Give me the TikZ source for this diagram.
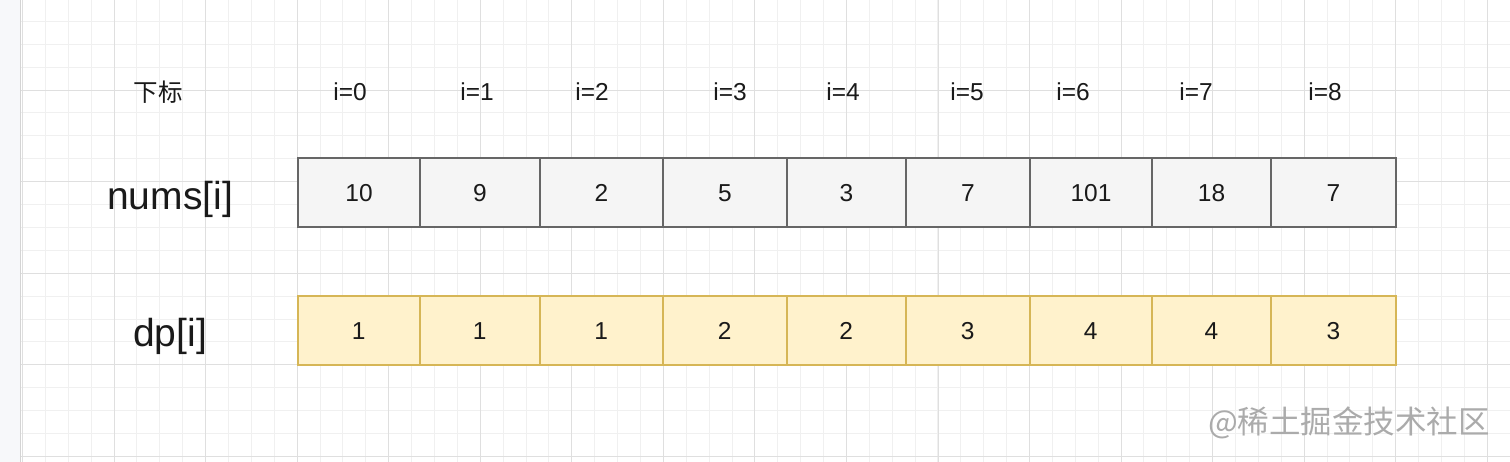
\documentclass[tikz,border=0pt]{standalone}
\usepackage{fontspec}
\setmainfont{Liberation Sans}
\newfontfamily\cjk{Noto Sans CJK SC}
\definecolor{minorgrid}{HTML}{F0F0F0}
\definecolor{majorgrid}{HTML}{DFDFDF}
\definecolor{stripbg}{HTML}{F7F8FA}
\definecolor{stripline}{HTML}{D4D4D4}
\definecolor{numfill}{HTML}{F5F5F5}
\definecolor{numline}{HTML}{666666}
\definecolor{dpfill}{HTML}{FFF2CC}
\definecolor{dpline}{HTML}{D6B656}
\definecolor{txt}{HTML}{1A1A1A}
\definecolor{wm}{HTML}{ABABAB}
\tikzset{
  minorline/.style={draw=minorgrid, line width=1pt},
  majorline/.style={draw=majorgrid, line width=1pt},
  cellbase/.style={rectangle, inner sep=0pt, minimum height=69pt, text=txt,
    font=\fontsize{24.5}{29}\selectfont, text height=17.6pt, text depth=0pt, anchor=west},
  numcell/.style={cellbase, fill=numfill, draw=numline, line width=2pt},
  dpcell/.style={cellbase, fill=dpfill, draw=dpline, line width=1.6pt},
  idxlabel/.style={inner sep=0pt, text=txt, font=\fontsize{24.5}{29}\selectfont},
  rowlabel/.style={inner sep=0pt, text=txt, font=\fontsize{39}{46}\selectfont},
  watermark/.style={inner sep=0pt, text=wm, font=\cjk\fontsize{31.5}{36}\selectfont},
}
\begin{document}
\begin{tikzpicture}[x=1pt,y=-1pt]
\useasboundingbox (0,0) rectangle (1510,462);
\fill[white] (0,0) rectangle (1510,462);
% grid
\foreach \i in {0,...,65} {\pgfmathsetmacro{\gx}{round(22+\i*22.8875)+0.5}\draw[minorline] (\gx,0) -- ++(0,462);}
\foreach \j in {0,...,20} {\pgfmathsetmacro{\gy}{round(-2+\j*22.9)+0.5}\draw[minorline] (20,\gy) -- ++(1490,0);}
\foreach \i in {0,...,16} {\pgfmathsetmacro{\gx}{round(22+\i*91.55)+0.5}\draw[majorline] (\gx,0) -- ++(0,462);}
\foreach \j in {0,...,5} {\pgfmathsetmacro{\gy}{round(-2+\j*91.6)+0.5}\draw[majorline] (20,\gy) -- ++(1490,0);}
% left strip
\fill[stripbg] (0,0) rectangle (20,462);
\draw[stripline, line width=1.5pt] (20.5,0) -- (20.5,462);
% labels
\node[idxlabel, font=\cjk\fontsize{24.5}{29}\selectfont] (lxb) at (158,92) {下标};
\node[rowlabel] (lnums) at (170,199) {nums[i]};
\node[rowlabel] (ldp) at (170,336) {dp[i]};
% index labels
\foreach \x/\t [count=\k from 0] in {350/0,477/1,592/2,730/3,843/4,967/5,1073/6,1196/7,1325/8}
  {\node[idxlabel] (i\k) at (\x,92) {i=\t};}
% cells
\foreach \x/\w/\a/\b [count=\k from 0] in {
  297/122/10/1, 419/120/9/1, 539/123/2/1, 662/124/5/2, 786/119/3/2,
  905/124/7/3, 1029/122/101/4, 1151/119/18/4, 1270/125/7/3}
{
  \node[numcell, minimum width=\w pt] (n\k) at (\x,192.5) {\a};
  \node[dpcell, minimum width=\w pt] (d\k) at (\x,330.5) {\b};
}
% watermark
\node[watermark] (wmk) at (1349,423) {@稀土掘金技术社区};
\end{tikzpicture}
\end{document}
